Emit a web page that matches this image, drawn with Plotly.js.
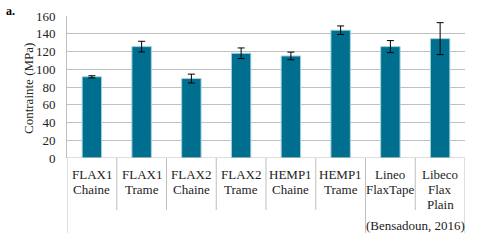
<!DOCTYPE html>
<html><head><meta charset="utf-8">
<script src="https://cdn.plot.ly/plotly-3.0.1.min.js"></script>
<style>body{margin:0;background:#fff}#c{width:480px;height:240px}</style>
</head><body><div id="c"></div>
<script>
const categories = [["FLAX1","Chaine"],["FLAX1","Trame"],["FLAX2","Chaine"],["FLAX2","Trame"],["HEMP1","Chaine"],["HEMP1","Trame"],["Lineo","FlaxTape"],["Libeco","Flax","Plain"]];
const values = [91.5, 125.5, 89.5, 118, 115, 144, 125.5, 134.5];
const errors = [1.2, 6, 5, 6, 4.3, 4.8, 6.8, 18];
const groupLabel = "(Bensadoun, 2016)";
const groupStart = 6, groupEnd = 7;
const yTicks = [0,20,40,60,80,100,120,140,160];
const yTitle = "Contrainte (MPa)";

const xs = categories.map((_, i) => i);
const serif = "Times New Roman";
const plotH = 142, plotW = 398;
const py = px => (158 - px) / plotH;
const pxX = px => (px - 67) / plotW;

const shapes = [];
for (let b = 0; b <= categories.length; b++) {
  const xb = b - 0.5;
  const long = (b === 0 || b === groupStart || b === groupEnd + 1);
  shapes.push({type:'line', xref:'x', yref:'paper', x0:xb, x1:xb, y0:0, y1: long ? py(233) : py(210),
    line:{color:'#bfbfbf', width:1}});
}
const annotations = [];
categories.forEach((lines, i) => lines.forEach((t, k) => annotations.push({
  x:i, xref:'x', y:py(174 + 15*k), yref:'paper', yanchor:'middle', text:t, showarrow:false,
  font:{family:serif, size:13, color:'#222'}
})));
annotations.push({x:(groupStart+groupEnd)/2, xref:'x', y:py(225), yref:'paper', yanchor:'middle',
  text:groupLabel, showarrow:false, font:{family:serif, size:13, color:'#222'}});
annotations.push({x:pxX(4), xref:'paper', xanchor:'left', y:py(11), yref:'paper', yanchor:'middle',
  text:"<b>a.</b>", showarrow:false, font:{family:serif, size:12, color:'#000'}});
annotations.push({x:pxX(28), xref:'paper', xanchor:'center', y:py(89), yref:'paper', yanchor:'middle',
  text:yTitle, textangle:-90, showarrow:false, font:{family:serif, size:13, color:'#222'}});

const trace = {
  type:'bar', x:xs, y:values, width:0.39,
  marker:{color:'#006E8E', line:{color:'#9fd3df', width:1}},
  error_y:{type:'data', array:errors, visible:true, color:'#000', thickness:1, width:3.5}
};
const layout = {
  width:480, height:240,
  margin:{l:67, r:15, t:16, b:82},
  paper_bgcolor:'#fff', plot_bgcolor:'#fff',
  showlegend:false,
  font:{family:serif},
  xaxis:{range:[-0.5, categories.length-0.5], showticklabels:false, showgrid:false, zeroline:false,
    showline:false, ticks:'', fixedrange:true},
  yaxis:{range:[0,160], tickvals:yTicks, ticktext:yTicks.map(String), showgrid:true, gridcolor:'#c0c0c0',
    gridwidth:1, zeroline:false, showline:true, linecolor:'#bfbfbf', linewidth:1, ticks:'',
    tickfont:{family:serif, size:13, color:'#222'}, ticklabelstandoff:8},
  shapes: shapes.concat([{type:'line', xref:'paper', yref:'y', x0:0, x1:1, y0:0, y1:0, line:{color:'#bfbfbf', width:1}}]),
  annotations: annotations
};
Plotly.newPlot('c', [trace], layout, {staticPlot:true, displayModeBar:false});
</script></body></html>
